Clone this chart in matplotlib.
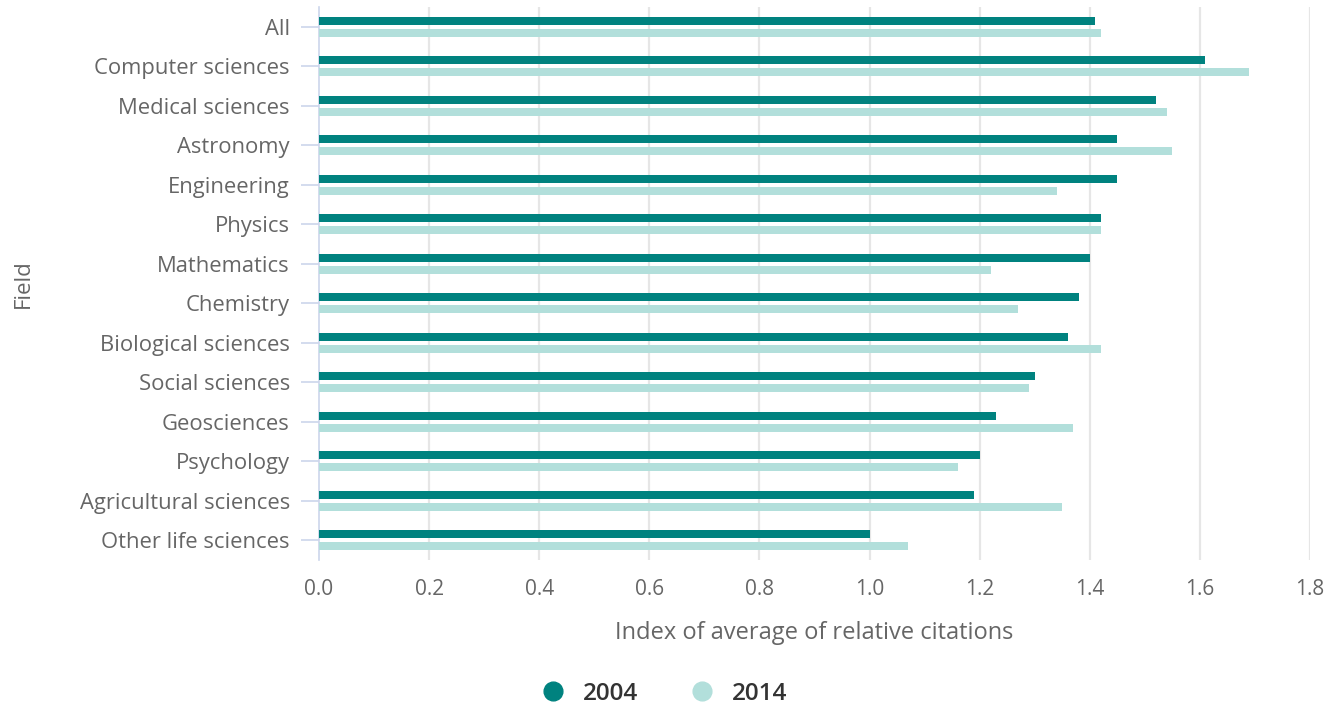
import matplotlib
matplotlib.use("Agg")
import matplotlib.pyplot as plt
import numpy as np
from matplotlib.lines import Line2D

plt.rcParams['font.family'] = ['Open Sans', 'DejaVu Sans']

fields = ["All", "Computer sciences", "Medical sciences", "Astronomy", "Engineering",
          "Physics", "Mathematics", "Chemistry", "Biological sciences", "Social sciences",
          "Geosciences", "Psychology", "Agricultural sciences", "Other life sciences"]
v2004 = [1.41, 1.61, 1.52, 1.45, 1.45, 1.42, 1.40, 1.38, 1.36, 1.30, 1.23, 1.20, 1.19, 1.00]
v2014 = [1.42, 1.69, 1.54, 1.55, 1.34, 1.42, 1.22, 1.27, 1.42, 1.29, 1.37, 1.16, 1.35, 1.07]
series_names = ["2004", "2014"]
xticks = [0.0, 0.2, 0.4, 0.6, 0.8, 1.0, 1.2, 1.4, 1.6, 1.8]

c2004 = "#00827f"
c2014 = "#b2dfdb"

fig = plt.figure(figsize=(13.38, 7.08), dpi=100)
ax = fig.add_axes([319/1338, 1 - 560/708, (1310-319)/1338, (560-7)/708])

n = len(fields)
y = np.arange(n)
h = 0.2
off = 0.152
ax.barh(y - off, v2004, height=h, color=c2004, zorder=3)
ax.barh(y + off, v2014, height=h, color=c2014, zorder=3)

ax.set_ylim(n - 0.5, -0.5)
ax.set_xlim(0, 1.8)
ax.set_xticks(xticks)
ax.set_xticklabels([f"{t:.1f}" for t in xticks])
ax.set_yticks(y)
ax.set_yticklabels(fields)

for t in xticks[1:]:
    ax.axvline(t, color="#e6e6e6", lw=1.6, zorder=1)

for s in ["top", "right", "bottom"]:
    ax.spines[s].set_visible(False)
ax.spines["left"].set_color("#ccd6eb")
ax.spines["left"].set_linewidth(1.2)

ax.tick_params(axis="y", length=13, width=1.2, color="#ccd6eb", labelcolor="#666666",
               labelsize=15.8, pad=8)
ax.tick_params(axis="x", length=0, labelcolor="#666666", labelsize=15, pad=14)

ax.set_xlabel("Index of average of relative citations", fontsize=17, color="#666666", labelpad=15)
ax.set_ylabel("Field", fontsize=16, color="#666666", labelpad=0)
ax.yaxis.set_label_coords(-0.288, 0.5)

handles = [Line2D([0], [0], marker='o', color='none', markerfacecolor=c2004, markeredgecolor=c2004, markersize=13.5),
           Line2D([0], [0], marker='o', color='none', markerfacecolor=c2014, markeredgecolor=c2014, markersize=13.5)]
leg = fig.legend(handles, series_names, loc="center", bbox_to_anchor=(664/1338, 1 - 694/708),
                 ncol=2, frameon=False, fontsize=17.5, handletextpad=0.75, columnspacing=2.1,
                 handlelength=1.0)
for t in leg.get_texts():
    t.set_color("#333333")
    t.set_fontweight("semibold")

fig.savefig("out.png", dpi=100)
